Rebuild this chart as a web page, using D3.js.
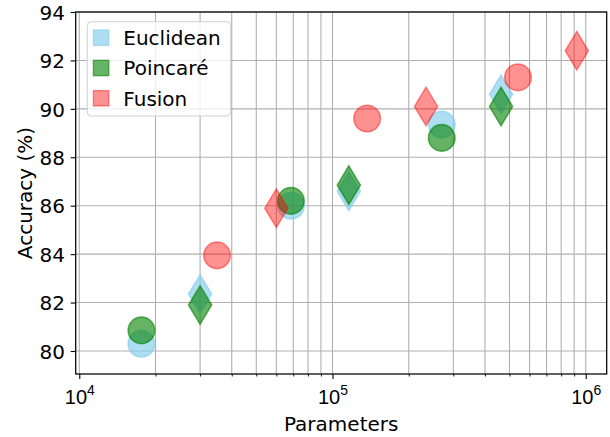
<!DOCTYPE html>
<html>
<head>
<meta charset="utf-8">
<script src="https://cdn.jsdelivr.net/npm/d3@7"></script>
<style>
  body { margin: 0; background: #fff; }
  svg { display: block; font-family: "DejaVu Sans", sans-serif; }
</style>
</head>
<body>
<svg id="chart" width="610" height="437"></svg>
<script>
// ---- data: [parameters, accuracy %] ----
const seriesNames = ["Euclidean", "Poincaré", "Fusion"];

const euclideanCircles  = [[17600, 80.3],  [68500, 86.0],  [270000, 89.35]];
const euclideanDiamonds = [[30000, 82.35], [116000, 86.6], [463000, 90.6]];
const poincareCircles   = [[17600, 80.85], [68500, 86.2],  [270000, 88.8]];
const poincareDiamonds  = [[30000, 81.9],  [116000, 86.85],[463000, 90.1]];
const fusionCircles     = [[35000, 83.95], [137000, 89.6], [540000, 91.3]];
const fusionDiamonds    = [[60000, 85.9],  [234000, 90.1], [922000, 92.4]];

const yTicks = [80, 82, 84, 86, 88, 90, 92, 94];
const xMajorTicks = [1e4, 1e5, 1e6];
const xTickExponents = ["4", "5", "6"];

// ---- styling ----
const colors = { "Euclidean": "#87ceeb", "Poincaré": "#008000", "Fusion": "#ff0000" };
const alphas = { "Euclidean": 0.68, "Poincaré": 0.6, "Fusion": 0.43 };

const layers = [
  { name: "Euclidean", shape: "circle",  data: euclideanCircles },
  { name: "Euclidean", shape: "diamond", data: euclideanDiamonds },
  { name: "Poincaré",  shape: "circle",  data: poincareCircles },
  { name: "Poincaré",  shape: "diamond", data: poincareDiamonds },
  { name: "Fusion",    shape: "circle",  data: fusionCircles },
  { name: "Fusion",    shape: "diamond", data: fusionDiamonds }
];

const plot = { left: 75.7, right: 606.7, top: 12, bottom: 374 };

const svg = d3.select("#chart");

const x = d3.scaleLog().domain([9680, 1.21e6]).range([plot.left, plot.right]);
const y = d3.scaleLinear().domain([79.05, 94]).range([plot.bottom, plot.top]);

// symbols sized by radius / half-height in px
const circleType = { draw(ctx, r) { ctx.moveTo(r, 0); ctx.arc(0, 0, r, 0, 2 * Math.PI); ctx.closePath(); } };
const thinDiamondType = { draw(ctx, h) { const w = h * 0.6; ctx.moveTo(0, -h); ctx.lineTo(w, 0); ctx.lineTo(0, h); ctx.lineTo(-w, 0); ctx.closePath(); } };
const symbolFor = {
  circle: d3.symbol().type(circleType).size(13.3),
  diamond: d3.symbol().type(thinDiamondType).size(19.3)
};

// ---- grid ----
const grid = svg.append("g").attr("stroke", "#b0b0b0").attr("stroke-width", 1.1);
grid.selectAll("line.vx").data(x.ticks()).join("line")
  .attr("x1", d => x(d)).attr("x2", d => x(d))
  .attr("y1", plot.top).attr("y2", plot.bottom);
grid.selectAll("line.hy").data(yTicks).join("line")
  .attr("x1", plot.left).attr("x2", plot.right)
  .attr("y1", d => y(d)).attr("y2", d => y(d));

// ---- markers ----
layers.forEach(layer => {
  svg.append("g").selectAll("path").data(layer.data).join("path")
    .attr("d", symbolFor[layer.shape])
    .attr("transform", d => `translate(${x(d[0])},${y(d[1])})`)
    .attr("fill", colors[layer.name])
    .attr("fill-opacity", alphas[layer.name])
    .attr("stroke", colors[layer.name])
    .attr("stroke-opacity", alphas[layer.name])
    .attr("stroke-width", 1.5);
});

// ---- axes ----
const yAxis = svg.append("g").attr("transform", `translate(${plot.left},0)`)
  .call(d3.axisLeft(y).tickValues(yTicks).tickSize(5).tickPadding(5.7).tickFormat(d3.format("d")));
yAxis.select(".domain").remove();
yAxis.selectAll(".tick line").attr("stroke", "#000").attr("stroke-width", 1.1);
yAxis.selectAll(".tick text").attr("font-size", 20).attr("font-family", "DejaVu Sans, sans-serif")
  .attr("fill", "#000").attr("dy", "0.36em");

const xMinor = svg.append("g").attr("transform", `translate(0,${plot.bottom})`)
  .call(d3.axisBottom(x).tickValues(x.ticks().filter(t => !xMajorTicks.includes(t))).tickSize(2.5).tickFormat(() => ""));
xMinor.select(".domain").remove();
xMinor.selectAll(".tick line").attr("stroke", "#000").attr("stroke-width", 0.9);

const xAxis = svg.append("g").attr("transform", `translate(0,${plot.bottom})`)
  .call(d3.axisBottom(x).tickValues(xMajorTicks).tickSize(5).tickFormat(() => ""));
xAxis.select(".domain").remove();
xAxis.selectAll(".tick line").attr("stroke", "#000").attr("stroke-width", 1.1);
xAxis.selectAll(".tick text").remove();
xAxis.selectAll(".tick").each(function (d, i) {
  const t = d3.select(this).append("text")
    .attr("y", 30.3).attr("text-anchor", "middle").attr("fill", "#000")
    .attr("font-size", 20);
  t.append("tspan").text("10");
  t.append("tspan").attr("font-size", 14).attr("dy", -9.5).text(xTickExponents[i]);
});

// ---- spines ----
svg.append("rect")
  .attr("x", plot.left).attr("y", plot.top)
  .attr("width", plot.right - plot.left).attr("height", plot.bottom - plot.top)
  .attr("fill", "none").attr("stroke", "#000").attr("stroke-width", 1.25);

// ---- axis labels ----
svg.append("text")
  .attr("x", (plot.left + plot.right) / 2).attr("y", 431)
  .attr("text-anchor", "middle").attr("font-size", 20).attr("fill", "#000")
  .text("Parameters");
svg.append("text")
  .attr("transform", `translate(32,${(plot.top + plot.bottom) / 2}) rotate(-90)`)
  .attr("text-anchor", "middle").attr("font-size", 20).attr("fill", "#000")
  .text("Accuracy (%)");

// ---- legend ----
const legend = svg.append("g");
legend.append("rect")
  .attr("x", 87.3).attr("y", 21.7).attr("width", 143.4).attr("height", 94.3).attr("rx", 4)
  .attr("fill", "#fff").attr("fill-opacity", 0.8)
  .attr("stroke", "#d0d0d0").attr("stroke-width", 1);
const rowCenters = [37.7, 68, 98.3];
seriesNames.forEach((name, i) => {
  legend.append("rect")
    .attr("x", 93.4).attr("y", rowCenters[i] - 7.7).attr("width", 15.4).attr("height", 15.4)
    .attr("fill", colors[name]).attr("fill-opacity", alphas[name])
    .attr("stroke", colors[name]).attr("stroke-opacity", alphas[name]).attr("stroke-width", 1.3);
  legend.append("text")
    .attr("x", 123.3).attr("y", rowCenters[i] + 7.3)
    .attr("font-size", 20).attr("fill", "#000")
    .text(name);
});
</script>
</body>
</html>
